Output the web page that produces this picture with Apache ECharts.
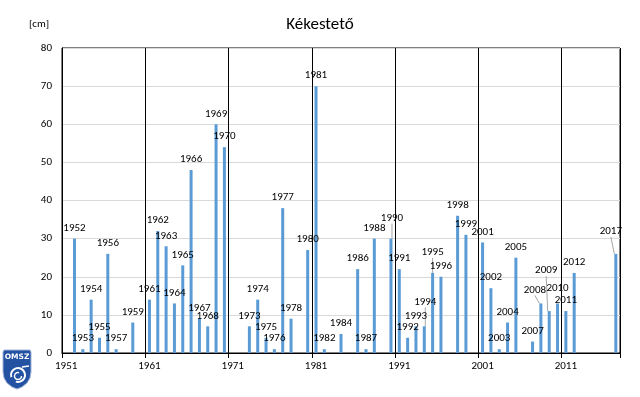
<!DOCTYPE html>
<html>
<head>
<meta charset="utf-8">
<script src="https://cdn.jsdelivr.net/npm/echarts@6/dist/echarts.min.js"></script>
<style>
html,body{margin:0;padding:0;background:#fff;}
#c{width:640px;height:397px;}
</style>
</head>
<body>
<div id="c"></div>
<script>
var years = ['1951','1952','1953','1954','1955','1956','1957','1958','1959','1960',
  '1961','1962','1963','1964','1965','1966','1967','1968','1969','1970',
  '1971','1972','1973','1974','1975','1976','1977','1978','1979','1980',
  '1981','1982','1983','1984','1985','1986','1987','1988','1989','1990',
  '1991','1992','1993','1994','1995','1996','1997','1998','1999','2000',
  '2001','2002','2003','2004','2005','2006','2007','2008','2009','2010',
  '2011','2012','2013','2014','2015','2016','2017'];
var snowDepth = [null,30,1,14,4,26,1,null,8,null,
  14,32,28,13,23,48,9,7,60,54,
  null,null,7,14,4,1,38,9,null,27,
  70,1,null,5,null,22,1,30,null,30,
  22,4,7,7,21,20,null,36,31,null,
  29,17,1,8,25,null,3,13,11,13,
  11,21,null,null,null,null,26];
var yTicks = [0,10,20,30,40,50,60,70,80];

// manually moved labels (dx, dy in px) and which have leader lines
var labelShift = {'1990':[1,-10],'1994':[1,-14],'1995':[0,-10],'2008':[-6,-3],'2009':[-3,-30],'2010':[0,-5],'2017':[-5,-12]};
var leader = {'1990':1,'1994':1,'1995':1,'2008':1,'2009':1,'2017':1};

var FONT = 'Carlito, Calibri, Lato, sans-serif';
var FS = 11;
var chart = echarts.init(document.getElementById('c'), null, {renderer:'canvas'});

var barData = snowDepth.map(function(v,i){
  var o = {value: v};
  if (leader[years[i]]) o.labelLine = {show: true};
  return o;
});

chart.setOption({
  animation: false,
  backgroundColor: '#fff',
  title: {
    text: 'Kékestető', left: 'center', top: 11,
    textStyle: {fontFamily: FONT, fontSize: 17, fontWeight: 'normal', color: '#000'}
  },
  graphic: [
    {type:'text', left: 29, top: 19, style:{text:'[cm]', font: FS + 'px ' + FONT, fill:'#000'}},
    {type:'polygon', shape:{points:[[4,350],[30,350],[31,352],[31,372],[30,378],[27,383],[22,387],[17,389],[12,387],[7,383],[4,378],[3,372],[3,352]]},
      style:{fill:'#2352a3', stroke:'#9fb4d8', lineWidth:1}},
    {type:'text', x: 17, y: 357, style:{text:'OMSZ', font:'bold 7.5px "DejaVu Sans"', fill:'#fff', textAlign:'center', textVerticalAlign:'middle'}},
    {type:'arc', shape:{cx:18, cy:375, r:7, startAngle: Math.PI*0.9, endAngle: Math.PI*2.6}, style:{stroke:'#fff', lineWidth:2, fill:'none'}},
    {type:'arc', shape:{cx:18, cy:376, r:3.5, startAngle: 0, endAngle: Math.PI*1.6}, style:{stroke:'#fff', lineWidth:1.5, fill:'none'}},
    {type:'line', shape:{x1:22, y1:367, x2:29, y2:366}, style:{stroke:'#fff', lineWidth:1.5}}
  ],
  grid: {left: 62, right: 20, top: 48, bottom: 44, show: true, borderColor: '#000', borderWidth: 1},
  xAxis: {
    type: 'category', data: years, boundaryGap: true,
    axisLine: {show: true, lineStyle: {color: '#000', width: 1}},
    axisTick: {show: true, interval: 9, length: 5, lineStyle: {color: '#000'}},
    axisLabel: {interval: 9, margin: 8, fontFamily: FONT, fontSize: FS, color: '#000'},
    splitLine: {show: true, interval: 9, lineStyle: {color: '#000', width: 1}}
  },
  yAxis: {
    type: 'value', min: yTicks[0], max: yTicks[yTicks.length-1], interval: 10,
    axisLine: {show: true, lineStyle: {color: '#000'}},
    axisTick: {show: false},
    axisLabel: {margin: 10, fontFamily: FONT, fontSize: FS, color: '#000'},
    splitLine: {show: true, lineStyle: {color: '#d9d9d9', width: 1}}
  },
  series: [{
    type: 'bar', data: barData, barWidth: 3,
    itemStyle: {color: '#5b9bd5'},
    label: {show: true, position: 'top', distance: 5, formatter: '{b}', fontFamily: FONT, fontSize: FS, color: '#000'},
    labelLine: {show: false, lineStyle: {color: '#a6a6a6', width: 1}},
    labelLayout: function(p){
      var s = labelShift[years[p.dataIndex]];
      return s ? {dx: s[0], dy: s[1]} : {};
    }
  }]
});
</script>
</body>
</html>
